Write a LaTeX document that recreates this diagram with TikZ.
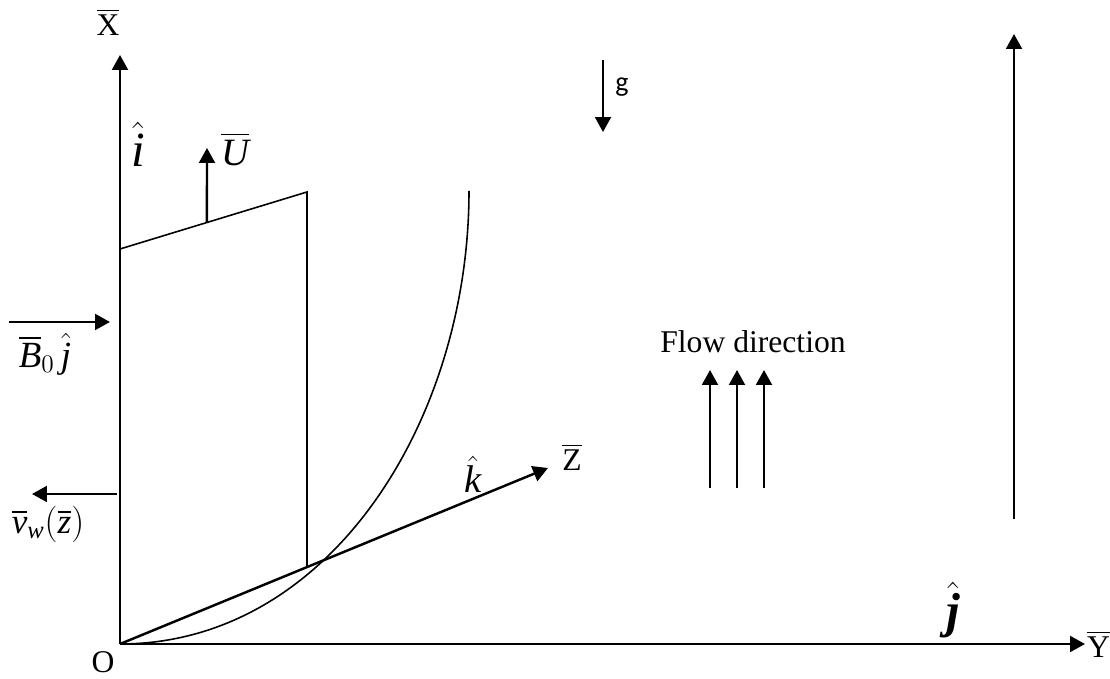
\documentclass[tikz,border=0pt]{standalone}
\usepackage{amsmath}
\usepackage{fontspec}
\setmainfont{Liberation Serif}
\newfontfamily\calibrifont{Carlito}
\usetikzlibrary{arrows.meta,calc}

\begin{document}
\begin{tikzpicture}[
        vec/.style={-{Triangle[length=8.5pt,width=9pt]}, line width=1.4pt},
        wall/.style={line width=0.9pt},
        lab/.style={font=\fontsize{18}{20}\selectfont, inner sep=0pt},
        midlab/.style={font=\fontsize{22}{24}\selectfont, inner sep=0pt},
        biglab/.style={font=\fontsize{28}{30}\selectfont, inner sep=0pt}]
        \useasboundingbox (0,0) rectangle (22.2,13.58);

        % Axes
        \coordinate (O) at (2.4,0.7);
        \coordinate (Xtip) at (2.4,12.48);
        \coordinate (Ytip) at (21.7,0.7);
        \coordinate (Ztip) at (10.96,4.22);
        \draw[vec] (O) -- (Xtip);
        \draw[vec] (O) -- (Ytip);
        \draw[vec] (O) -- (Ztip);
        \node[lab] (xlab) at (2.16,13.14) {$\overline{\mbox{X}}$};
        \node[lab, right=1pt] (ylab) at (Ytip) {$\overline{\mbox{Y}}$};
        \node[lab] (zlab) at (11.44,4.44) {$\overline{\mbox{Z}}$};
        \node[lab] (olab) at (2.06,0.34) {O};

        % Unit vectors
        \node[biglab] (ihat) at (2.76,10.7) {$\hat{\textit{i}}$};
        \node[biglab] (jhat) at (19.06,1.38) {$\hat{\textbf{\textit{j}}}$};
        \node[midlab] (khat) at (9.46,4.1) {$\hat{\textit{k}}$};

        % Plate and boundary layer edge
        \coordinate (boxtl) at (2.4,8.6);
        \coordinate (boxtr) at (6.14,9.74);
        \coordinate (boxbot) at ($(O)!0.4369!(Ztip)$);
        \draw[wall] (boxtl) -- (boxtr) -- (boxbot);
        \coordinate (ctop) at (9.38,9.76);
        \draw[wall] (O) .. controls (6.6,0.7) and (9.38,5.18) .. (ctop);

        % Plate velocity
        \coordinate (u0) at ($(boxtl)!0.465!(boxtr)$);
        \coordinate (u1) at (4.14,10.62);
        \draw[vec] (u0) -- (u1);
        \node[midlab] (ulab) at (4.7,10.6) {$\overline{\textit{U}}$};

        % Magnetic field and suction
        \coordinate (b0) at (0.18,7.14);
        \coordinate (b1) at (2.2,7.14);
        \draw[vec] (b0) -- (b1);
        \node[font=\fontsize{21}{23}\selectfont, inner sep=0pt] (blab) at (0.9,6.5) {$\overline{\textit{B}}_{0}\,\hat{\textit{j}}$};
        \coordinate (v0) at (2.34,3.7);
        \coordinate (v1) at (0.64,3.7);
        \draw[vec] (v0) -- (v1);
        \node[font=\fontsize{20}{22}\selectfont, inner sep=0pt] (vlab) at (0.96,3.1) {$\overline{\textit{v}}_{\textit{w}}(\overline{\textit{z}})$};

        % Gravity
        \coordinate (g0) at (12.06,12.38);
        \coordinate (g1) at (12.06,10.94);
        \draw[vec] (g0) -- (g1);
        \node[font=\calibrifont\fontsize{16}{18}\selectfont, inner sep=0pt] (glab) at (12.44,11.84) {g};

        % Flow direction
        \node[lab] (flow) at (15.06,6.74) {Flow direction};
        \foreach \x [count=\n] in {14.2,14.74,15.28} {
            \coordinate (f\n a) at (\x,3.82);
            \coordinate (f\n b) at (\x,6.18);
            \draw[vec] (f\n a) -- (f\n b);
        }
        \coordinate (r0) at (20.28,3.2);
        \coordinate (r1) at (20.28,12.9);
        \draw[vec] (r0) -- (r1);
\end{tikzpicture}
\end{document}
